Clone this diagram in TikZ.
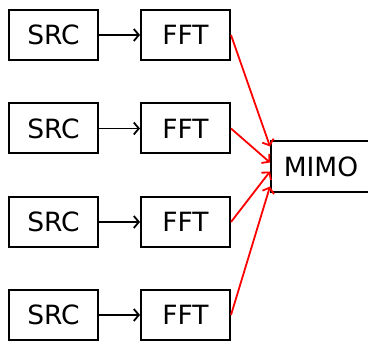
\documentclass[tikz,border=0pt]{standalone}
\usepackage{fontspec}
\setmainfont{DejaVu Sans}
\usetikzlibrary{arrows.meta}
\begin{document}
\begin{tikzpicture}[x=1pt,y=-1pt,
  box/.style={draw,line width=2pt,minimum width=89pt,minimum height=50pt,inner sep=0pt,font=\fontsize{26.5}{30}\selectfont},
  blk/.style={-{Straight Barb[length=5pt,width=12pt,line width=1.8pt]},line width=1.8pt},
  red/.style={-{Straight Barb[length=5pt,width=12pt,line width=1.8pt]},line width=1.8pt,draw=red}]
\useasboundingbox (0,0) rectangle (368,342);
\foreach \i/\y in {1/35,2/128.5,3/222,4/315}{
  \node[box] (s\i) at (53.5,\y) {SRC};
  \node[box] (f\i) at (185.5,\y) {FFT};
  \draw[blk] (s\i) -- (f\i);
}
\node[box,minimum width=100pt,minimum height=51pt] (m) at (321,166.5) {MIMO};
\draw[red] (f1.east) -- ([yshift=20pt]m.west);
\draw[red] (f2.east) -- ([yshift=4pt]m.west);
\draw[red] (f3.east) -- ([yshift=-5pt]m.west);
\draw[red] (f4.east) -- ([yshift=-20pt]m.west);
\end{tikzpicture}
\end{document}
